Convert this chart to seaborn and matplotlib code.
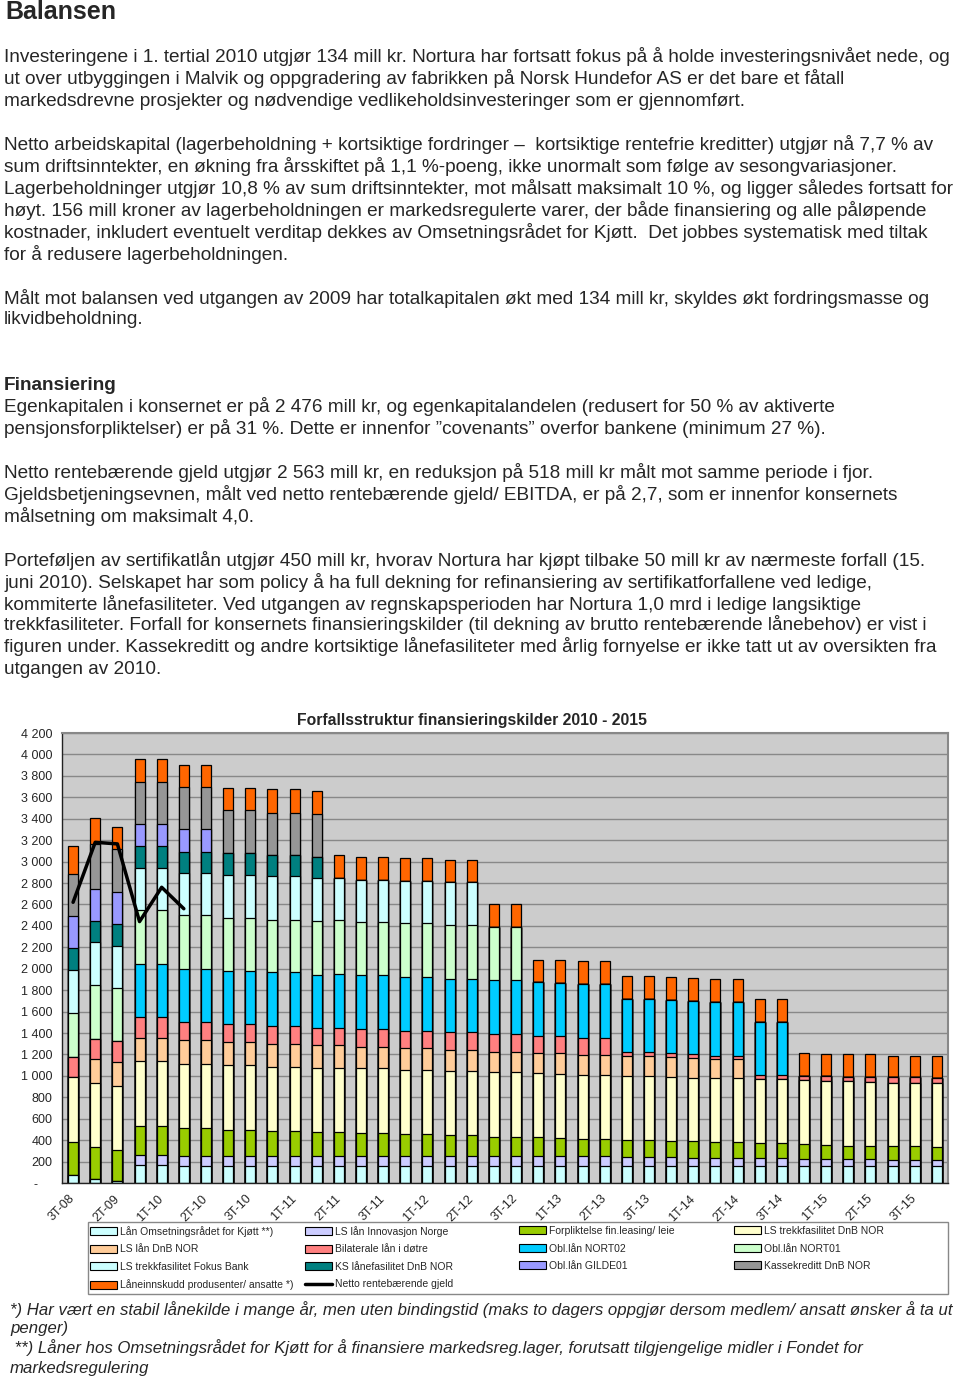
import matplotlib
matplotlib.use("Agg")
import matplotlib.pyplot as plt
from matplotlib.patches import Patch, Rectangle
from matplotlib.lines import Line2D
import seaborn as sns
import numpy as np

sns.set_style("white")
plt.rcParams['font.family'] = ['Liberation Sans', 'DejaVu Sans']

# ---------------- text ----------------
heading = "Balansen"
body_lines = [
    (57, "Investeringene i 1. tertial 2010 utgjør 134 mill kr. Nortura har fortsatt fokus på å holde investeringsnivået nede, og"),
    (79, "ut over utbyggingen i Malvik og oppgradering av fabrikken på Norsk Hundefor AS er det bare et fåtall"),
    (101, "markedsdrevne prosjekter og nødvendige vedlikeholdsinvesteringer som er gjennomført."),
    (145, "Netto arbeidskapital (lagerbeholdning + kortsiktige fordringer –  kortsiktige rentefrie kreditter) utgjør nå 7,7 % av"),
    (167, "sum driftsinntekter, en økning fra årsskiftet på 1,1 %-poeng, ikke unormalt som følge av sesongvariasjoner."),
    (189, "Lagerbeholdninger utgjør 10,8 % av sum driftsinntekter, mot målsatt maksimalt 10 %, og ligger således fortsatt for"),
    (210, "høyt. 156 mill kroner av lagerbeholdningen er markedsregulerte varer, der både finansiering og alle påløpende"),
    (232, "kostnader, inkludert eventuelt verditap dekkes av Omsetningsrådet for Kjøtt.  Det jobbes systematisk med tiltak"),
    (254, "for å redusere lagerbeholdningen."),
    (298, "Målt mot balansen ved utgangen av 2009 har totalkapitalen økt med 134 mill kr, skyldes økt fordringsmasse og"),
    (320, "likvidbeholdning."),
    (407, "Egenkapitalen i konsernet er på 2 476 mill kr, og egenkapitalandelen (redusert for 50 % av aktiverte"),
    (429, "pensjonsforpliktelser) er på 31 %. Dette er innenfor ”covenants” overfor bankene (minimum 27 %)."),
    (473, "Netto rentebærende gjeld utgjør 2 563 mill kr, en reduksjon på 518 mill kr målt mot samme periode i fjor."),
    (495, "Gjeldsbetjeningsevnen, målt ved netto rentebærende gjeld/ EBITDA, er på 2,7, som er innenfor konsernets"),
    (517, "målsetning om maksimalt 4,0."),
    (560, "Porteføljen av sertifikatlån utgjør 450 mill kr, hvorav Nortura har kjøpt tilbake 50 mill kr av nærmeste forfall (15."),
    (582, "juni 2010). Selskapet har som policy å ha full dekning for refinansiering av sertifikatforfallene ved ledige,"),
    (604, "kommiterte lånefasiliteter. Ved utgangen av regnskapsperioden har Nortura 1,0 mrd i ledige langsiktige"),
    (625, "trekkfasiliteter. Forfall for konsernets finansieringskilder (til dekning av brutto rentebærende lånebehov) er vist i"),
    (647, "figuren under. Kassekreditt og andre kortsiktige lånefasiliteter med årlig fornyelse er ikke tatt ut av oversikten fra"),
    (669, "utgangen av 2010."),
]
subheading = (385, "Finansiering")
footnotes = [
    (1310, 10, "*) Har vært en stabil lånekilde i mange år, men uten bindingstid (maks to dagers oppgjør dersom medlem/ ansatt ønsker å ta ut"),
    (1329, 10, "penger)"),
    (1348, 10, " **) Låner hos Omsetningsrådet for Kjøtt for å finansiere markedsreg.lager, forutsatt tilgjengelige midler i Fondet for"),
    (1368, 10, "markedsregulering"),
]
chart_title = "Forfallsstruktur finansieringskilder 2010 - 2015"

# ---------------- data ----------------
tick_labels = ["3T-08", "2T-09", "1T-10", "2T-10", "3T-10", "1T-11", "2T-11", "3T-11", "1T-12", "2T-12",
               "3T-12", "1T-13", "2T-13", "3T-13", "1T-14", "2T-14", "3T-14", "1T-15", "2T-15", "3T-15"]
bars = list(range(40))

series_names = [
    "Lån Omsetningsrådet for Kjøtt **)", "LS lån Innovasjon Norge", "Forpliktelse fin.leasing/ leie",
    "LS trekkfasilitet DnB NOR", "LS lån DnB NOR", "Bilaterale lån i døtre", "Obl.lån NORT02",
    "Obl.lån NORT01", "LS trekkfasilitet Fokus Bank", "KS lånefasilitet DnB NOR", "Obl.lån GILDE01",
    "Kassekreditt DnB NOR", "Låneinnskudd produsenter/ ansatte *)",
]
colors = ["#CCFFFF", "#CCCCFF", "#99CC00", "#FFFFCC", "#FFCC99", "#FF8080", "#00CCFF",
          "#CCFFCC", "#CCFFFF", "#008080", "#9999FF", "#969696", "#FF6600"]

omsetning = [71, 35, 15, 164, 164, 155, 155, 155, 155, 155, 155, 155, 155, 155, 155, 155, 155, 155, 155, 155,
             155, 155, 155, 155, 155, 155, 155, 155, 155, 155, 155, 155, 155, 155, 155, 155, 155, 155, 155, 155]
innovasjon = [0, 0, 0, 99, 99, 99, 99, 99, 99, 99, 99, 95, 99, 99, 99, 99, 99, 99, 99, 93,
              93, 93, 93, 93, 93, 87, 87, 84, 78, 78, 78, 75, 75, 71, 71, 69, 69, 62, 62, 62]
leasing = [310, 300, 295, 273, 273, 257, 257, 242, 242, 232, 232, 224, 226, 217, 217, 205, 205, 196, 196, 186,
           186, 177, 170, 161, 161, 155, 155, 155, 155, 148, 148, 142, 142, 137, 131, 126, 126, 124, 124, 118]
trekk_dnb = [605, 601, 598, 599, 599, 599, 599, 604, 604, 599, 599, 601, 596, 599, 599, 595, 595, 595, 595, 598,
             598, 598, 599, 599, 599, 601, 601, 595, 595, 595, 595, 595, 595, 598, 598, 599, 592, 595, 595, 595]
lan_dnb = [0, 220, 220, 223, 223, 223, 223, 217, 217, 208, 208, 211, 211, 201, 201, 202, 202, 198, 198, 192,
           192, 192, 192, 189, 189, 186, 186, 183, 186, 177, 177, 0, 0, 0, 0, 0, 0, 0, 0, 0]
bilaterale = [186, 192, 195, 191, 191, 170, 170, 164, 164, 170, 170, 161, 164, 164, 164, 164, 164, 164, 164, 165,
              165, 161, 161, 161, 161, 41, 41, 37, 37, 37, 37, 41, 41, 40, 40, 43, 50, 50, 50, 46]
nort02 = [0, 0, 0, 497, 497, 490, 490, 496, 496, 502, 502, 499, 502, 502, 502, 502, 502, 500, 500, 502,
          502, 499, 499, 502, 502, 490, 490, 496, 496, 503, 503, 499, 499, 0, 0, 0, 0, 0, 0, 0]
nort01 = [418, 502, 496, 505, 505, 509, 509, 493, 493, 494, 494, 503, 502, 503, 503, 502, 502, 502, 502, 496,
          496, 0, 0, 0, 0, 0, 0, 0, 0, 0, 0, 0, 0, 0, 0, 0, 0, 0, 0, 0]
fokus = [397, 397, 397, 393, 393, 390, 390, 406, 406, 402, 402, 397, 391, 390, 390, 391, 391, 396, 396, 0,
         0, 0, 0, 0, 0, 0, 0, 0, 0, 0, 0, 0, 0, 0, 0, 0, 0, 0, 0, 0]
ks_dnb = [204, 195, 202, 202, 202, 201, 201, 202, 202, 202, 202, 198, 0, 0, 0, 0, 0, 0, 0, 0,
          0, 0, 0, 0, 0, 0, 0, 0, 0, 0, 0, 0, 0, 0, 0, 0, 0, 0, 0, 0]
gilde01 = [298, 301, 300, 202, 202, 208, 208, 0, 0, 0, 0, 0, 0, 0, 0, 0, 0, 0, 0, 0,
           0, 0, 0, 0, 0, 0, 0, 0, 0, 0, 0, 0, 0, 0, 0, 0, 0, 0, 0, 0]
kassekreditt = [397, 417, 397, 396, 396, 394, 394, 400, 400, 395, 395, 397, 0, 0, 0, 0, 0, 0, 0, 0,
                0, 0, 0, 0, 0, 0, 0, 0, 0, 0, 0, 0, 0, 0, 0, 0, 0, 0, 0, 0]
innskudd = [263, 244, 211, 216, 216, 211, 211, 210, 210, 216, 216, 216, 217, 217, 217, 217, 217, 211, 211, 217,
            217, 211, 214, 211, 211, 213, 213, 217, 214, 210, 210, 207, 207, 208, 208, 208, 208, 201, 201, 205]

net_debt_bars = [0, 1, 2, 3, 4, 5]
net_debt = [2620, 3180, 3165, 2440, 2760, 2560]

series = [omsetning, innovasjon, leasing, trekk_dnb, lan_dnb, bilaterale, nort02,
          nort01, fokus, ks_dnb, gilde01, kassekreditt, innskudd]
cum = np.cumsum(np.array(series), axis=0)

# ---------------- figure ----------------
W, H = 960, 1381
fig = plt.figure(figsize=(W / 100, H / 100), dpi=100)


def fy(px):
    return 1 - px / H


fig.text(5 / W, fy(12), heading, fontsize=18, fontweight='bold', va='center', ha='left')
for y, line in body_lines:
    fig.text(4 / W, fy(y), line, fontsize=13.65, va='center', ha='left')
fig.text(4 / W, fy(subheading[0]), subheading[1], fontsize=13.65, fontweight='bold', va='center', ha='left')
for y, x, line in footnotes:
    fig.text(x / W, fy(y), line, fontsize=12.1, style='italic', va='center', ha='left')

fig.text(472 / W, fy(721), chart_title, fontsize=11.3, fontweight='bold', va='center', ha='center')

ax = fig.add_axes([62 / W, fy(1183), 886 / W, 450 / H])
ax.set_facecolor('#CCCCCC')

# stacked bars: draw cumulative totals from the top series down
for k in range(len(series) - 1, -1, -1):
    sns.barplot(x=bars, y=cum[k], color=colors[k], saturation=1, edgecolor='black',
                linewidth=0.9, width=0.45, errorbar=None, ax=ax)

sns.lineplot(x=net_debt_bars, y=net_debt, color='black', lw=2.5, ax=ax, legend=False)

ax.set_ylim(0, 4200)
ax.set_xlim(-0.5, 39.5)
yt = np.arange(0, 4201, 200)
ax.set_yticks(yt)
ax.set_yticklabels(["-    " if v == 0 else f"{v:,}".replace(",", " ") for v in yt], fontsize=9)
ax.yaxis.grid(True, color='#888888', lw=1)
ax.set_axisbelow(True)
ax.tick_params(axis='y', length=4, width=0.8, color='#333333', pad=3)

ax.set_xticks(bars[::2])
ax.set_xticklabels(tick_labels, rotation=45, ha='right', va='center', rotation_mode='anchor', fontsize=9)
ax.set_xticks(np.arange(-0.5, 40, 1), minor=True)
ax.tick_params(axis='x', which='major', length=0, pad=10)
ax.tick_params(axis='x', which='minor', length=4, width=0.8, color='#555555')
ax.set_xlabel("")
ax.set_ylabel("")

for side in ['left', 'bottom']:
    ax.spines[side].set_color('#222222')
    ax.spines[side].set_linewidth(1)
for side in ['top', 'right']:
    ax.spines[side].set_color('#888888')
    ax.spines[side].set_linewidth(1.5)

# legend: framed box with four equally spaced columns, filled row by row
fig.add_artist(Rectangle((88 / W, fy(1294)), 860 / W, 72 / H, transform=fig.transFigure,
                         facecolor='white', edgecolor='#888888', linewidth=1))
handles = [Patch(facecolor=c, edgecolor='black', linewidth=0.8) for c in colors]
handles.append(Line2D([0], [0], color='black', lw=2.5))
labels = series_names + ["Netto rentebærende gjeld"]
col_x = [90, 305, 519, 734]
for c, x0 in enumerate(col_x):
    idx = [i for i in range(c, len(labels), 4)]
    fig.legend([handles[i] for i in idx], [labels[i] for i in idx],
               loc='upper left', bbox_to_anchor=(x0 / W, fy(1226)),
               frameon=False, borderaxespad=0, borderpad=0,
               handlelength=2.6, handleheight=0.8, handletextpad=0.25,
               labelspacing=0.72, prop={'size': 7.5})

fig.savefig("out.png", dpi=100)
